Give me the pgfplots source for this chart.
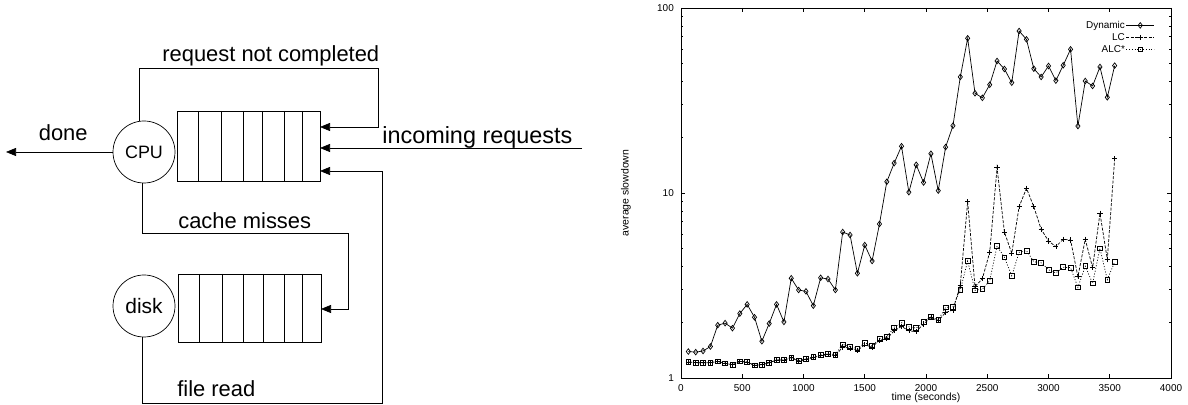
\documentclass[border=0pt]{standalone}
\usepackage{fontspec}
\setmainfont{Liberation Sans}
\usepackage{pgfplots}
\usepackage{pgfplotstable}
\pgfplotsset{compat=1.18}
\usetikzlibrary{arrows.meta}

\pgfplotstableread{
t v
60 1.39
120 1.38
180 1.40
240 1.48
300 1.93
360 1.98
420 1.86
480 2.23
540 2.50
600 2.13
660 1.58
720 1.97
780 2.50
840 2.01
900 3.46
960 2.99
1020 2.94
1080 2.46
1140 3.48
1200 3.43
1260 2.99
1320 6.15
1380 5.93
1440 3.68
1500 5.23
1560 4.29
1620 6.80
1680 11.5
1740 14.5
1800 17.9
1860 10.1
1920 14.2
1980 11.4
2040 16.3
2100 10.3
2160 17.7
2220 23.1
2280 42.4
2340 68.6
2400 34.6
2460 32.7
2520 38.5
2580 51.7
2640 46.8
2700 39.5
2760 75.1
2820 67.7
2880 47.0
2940 42.4
3000 48.6
3060 40.5
3120 49.0
3180 59.8
3240 23.0
3300 40.3
3360 37.9
3420 48.0
3480 32.9
3540 48.8
}\dyn

\pgfplotstableread{
t v
60 1.22
120 1.21
180 1.21
240 1.21
300 1.23
360 1.20
420 1.18
480 1.23
540 1.22
600 1.17
660 1.18
720 1.21
780 1.25
840 1.25
900 1.29
960 1.23
1020 1.26
1080 1.29
1140 1.32
1200 1.34
1260 1.32
1320 1.47
1380 1.45
1440 1.41
1500 1.51
1560 1.47
1620 1.60
1680 1.63
1740 1.80
1800 1.90
1860 1.80
1920 1.78
1980 1.96
2040 2.12
2100 2.04
2160 2.26
2220 2.33
2280 3.18
2340 8.97
2400 3.12
2460 3.44
2520 4.78
2580 13.7
2640 6.15
2700 4.72
2760 8.43
2820 10.6
2880 8.43
2940 6.37
3000 5.50
3060 5.13
3120 5.62
3180 5.57
3240 3.53
3300 5.62
3360 3.95
3420 7.77
3480 4.38
3540 15.3
}\lc

\pgfplotstableread{
t v
60 1.22
120 1.21
180 1.21
240 1.21
300 1.23
360 1.20
420 1.18
480 1.23
540 1.22
600 1.17
660 1.18
720 1.21
780 1.25
840 1.25
900 1.29
960 1.24
1020 1.27
1080 1.30
1140 1.33
1200 1.35
1260 1.34
1320 1.52
1380 1.48
1440 1.44
1500 1.55
1560 1.49
1620 1.63
1680 1.67
1740 1.88
1800 1.99
1860 1.89
1920 1.86
1980 2.01
2040 2.14
2100 2.06
2160 2.41
2220 2.43
2280 2.99
2340 4.29
2400 2.98
2460 3.02
2520 3.36
2580 5.17
2640 4.49
2700 3.57
2760 4.78
2820 4.88
2880 4.25
2940 4.20
3000 3.85
3060 3.70
3120 3.97
3180 3.95
3240 3.09
3300 4.02
3360 3.25
3420 5.02
3480 3.40
3540 4.24
}\alc

\begin{document}
\begin{tikzpicture}
\useasboundingbox (0,0) rectangle (1188bp,405bp);
% ---------- diagram ----------
\begin{scope}[x=1bp,y=-1bp,yshift=405bp,line width=0.7bp,
  arr/.style={-{Triangle[length=10bp,width=8bp]}},
  lab/.style={inner sep=0pt,font=\fontsize{22}{26}\selectfont}]
  % CPU
  \draw (144,152) circle[radius=31bp];
  \node[inner sep=0pt,font=\fontsize{18}{20}\selectfont] at (144,152) {CPU};
  \draw (177,111) rectangle (320,181);
  \foreach \x in {198.5,221.5,243,262,284,302} \draw (\x,111) -- (\x,181);
  % done
  \draw[arr] (113,152) -- (6,152);
  \node[lab,anchor=base west] at (38.5,141) {done};
  % request not completed loop
  \draw[arr] (139,121) |- (378,68) |- (320,127);
  \node[lab,anchor=base west] at (162,62) {request not completed};
  % incoming
  \draw[arr] (582,148) -- (320,148);
  \node[lab,anchor=base west,font=\fontsize{23.5}{26}\selectfont] at (382,144) {incoming requests};
  % cache misses
  \draw[arr] (142,183) |- (348,233) |- (321,309);
  \node[lab,anchor=base west] at (178,229) {cache misses};
  % disk
  \draw (144,306) circle[radius=31bp];
  \node[inner sep=0pt,font=\fontsize{21}{24}\selectfont] at (144,306) {disk};
  \draw (178,274) rectangle (321,342);
  \foreach \x in {199,222,243,263,284,302} \draw (\x,274) -- (\x,342);
  % file read
  \draw[arr] (142,337) |- (382,403) |- (320,171);
  \node[lab,anchor=base west] at (177,397) {file read};
\end{scope}
% ---------- chart ----------
\begin{axis}[
  at={(681bp,27bp)}, anchor=south west,
  scale only axis, width=490bp, height=370bp,
  ymode=log, xmin=0, xmax=4000, ymin=1, ymax=100,
  xtick={0,500,...,4000},
  ytick={1,10,100}, yticklabels={1,10,100},
  /pgf/number format/assume math mode=true,
  /pgf/number format/1000 sep={},
  major tick length=4bp, minor tick length=2bp,
  tick style={black,line width=0.6bp},
  axis line style={line width=0.9bp},
  every tick label/.append style={font=\fontsize{10}{11}\selectfont},
  xticklabel style={anchor=base,inner sep=0pt,yshift=-13bp},
  yticklabel style={anchor=east,inner sep=0pt,xshift=-7bp},
  xlabel={time (seconds)}, ylabel={average slowdown},
  every axis x label/.style={at={(axis description cs:0.5,0)},anchor=base,inner sep=0pt,yshift=-22bp,font=\fontsize{10.5}{12}\selectfont},
  every axis y label/.style={at={(axis description cs:-0.1122,0.5)},rotate=90,anchor=center,inner sep=0pt,font=\fontsize{10.5}{12}\selectfont},
  legend style={draw=none,fill=none,at={(axis description cs:0.967,0.968)},anchor=north east,
    font=\fontsize{10}{10}\selectfont,legend cell align=right,inner sep=0pt,row sep=1.5bp,
    nodes={inner sep=1bp}},
  legend plot pos=right,
  legend image code/.code={\draw[mark repeat=2,mark phase=2] plot coordinates {(0bp,0bp) (14bp,0bp) (28bp,0bp)};},
]
\addplot[black,line width=0.7bp,mark=diamond,mark size=2.8bp,mark options={solid}] table[x=t,y=v]{\dyn};
\addlegendentry{Dynamic}
\addplot[black,line width=0.7bp,dash pattern=on 3bp off 1.5bp,mark=+,mark size=2.6bp,mark options={solid}] table[x=t,y=v]{\lc};
\addlegendentry{LC}
\addplot[black,line width=0.7bp,dash pattern=on 1bp off 1.8bp,mark=square,mark size=2.4bp,mark options={solid}] table[x=t,y=v]{\alc};
\addlegendentry{ALC*}
\end{axis}
\end{tikzpicture}
\end{document}
